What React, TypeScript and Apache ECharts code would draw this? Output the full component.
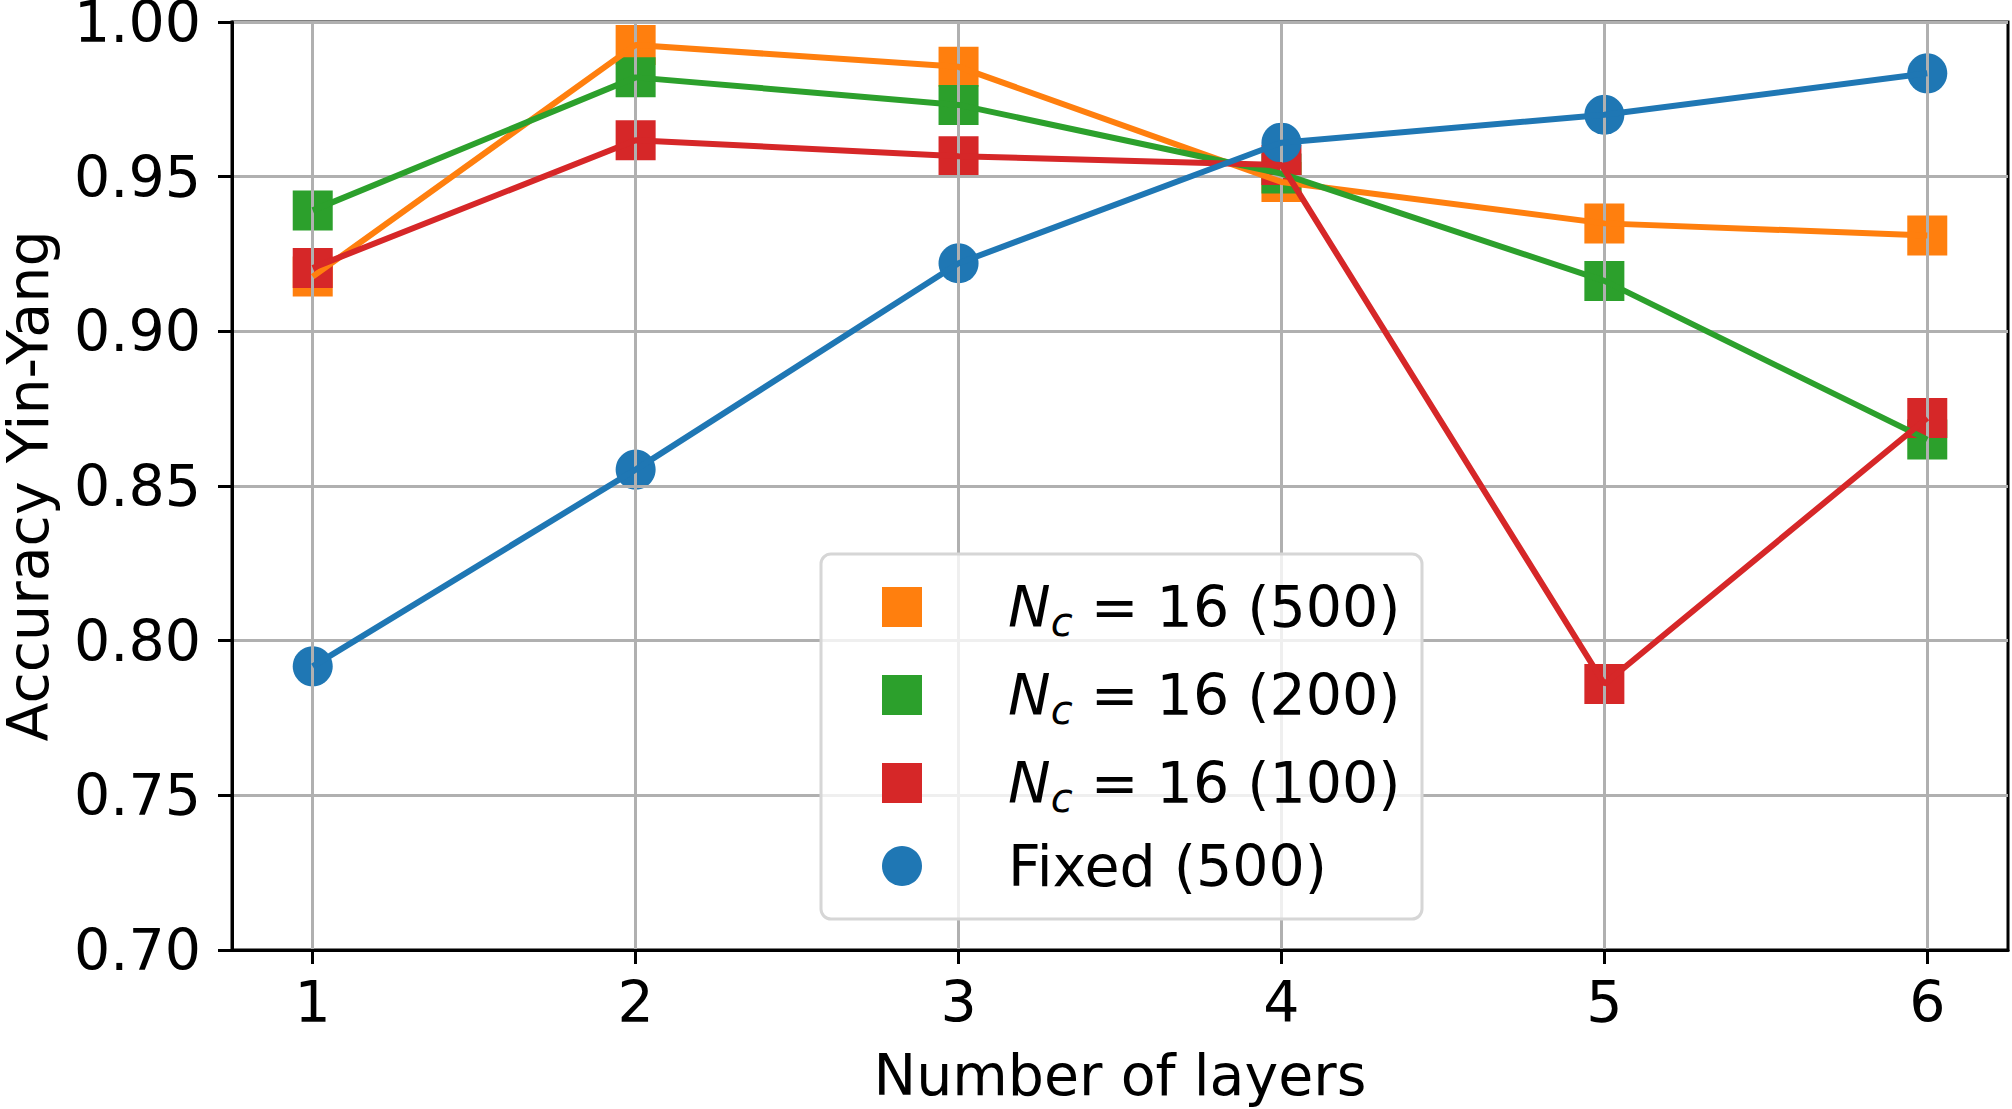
import React, { useEffect, useRef } from "react";
import * as echarts from "echarts";

// ---- data ----
const layers = [1, 2, 3, 4, 5, 6];
const xTickValues = [1, 2, 3, 4, 5, 6];
const acc500 = [0.9177, 0.9926, 0.9855, 0.9483, 0.9349, 0.931];
const acc200 = [0.9391, 0.9821, 0.9732, 0.951, 0.9163, 0.865];
const acc100 = [0.9205, 0.9618, 0.9566, 0.9538, 0.786, 0.872];
const fixed500 = [0.7917, 0.8553, 0.922, 0.961, 0.97, 0.9834];
const seriesNames = ["N_c = 16 (500)", "N_c = 16 (200)", "N_c = 16 (100)", "Fixed (500)"];
const seriesColors = ["#ff7f0e", "#2ca02c", "#d62728", "#1f77b4"];
const seriesSymbols = ["rect", "rect", "rect", "circle"];
const seriesValues = [acc500, acc200, acc100, fixed500];

const FONT = "DejaVu Sans";
const FS = 57;

export default function App() {
  const ref = useRef<HTMLDivElement>(null);

  useEffect(() => {
    const chart = echarts.init(ref.current!, null, { renderer: "svg" });

    const lineSeries = seriesNames.map((name, k) => ({
      type: "line",
      name,
      data: layers.map((x, i) => [x, seriesValues[k][i]]),
      symbol: "none",
      showSymbol: false,
      silent: true,
      z: 6,
      lineStyle: { color: seriesColors[k], width: 6 },
      itemStyle: { color: seriesColors[k] },
    }));

    const markerSeries = seriesNames.map((name, k) => ({
      type: "scatter",
      name,
      data: layers.map((x, i) => [x, seriesValues[k][i]]),
      symbol: seriesSymbols[k],
      symbolSize: 40,
      silent: true,
      z: 2,
      itemStyle: { color: seriesColors[k], opacity: 1 },
    }));

    const formatter = (name: string) => {
      if (name.startsWith("N_c")) {
        const rest = name.slice(3);
        return `{sp| }{i|N}{s|c}{t|${rest}}`;
      }
      return `{sp| }{t|${name}}`;
    };

    chart.setOption({
      animation: false,
      grid: {
        left: 232,
        right: 4,
        top: 22,
        bottom: 159,
        containLabel: false,
        outerBoundsMode: "none",
        show: true,
        borderColor: "#000",
        borderWidth: 3,
        backgroundColor: "transparent",
      },
      xAxis: {
        type: "value",
        min: 0.75,
        max: 6.25,
        z: 4,
        name: "Number of layers",
        nameLocation: "middle",
        nameGap: 96,
        nameTextStyle: { fontFamily: FONT, fontSize: FS, color: "#000" },
        axisLine: { show: true, lineStyle: { color: "#000", width: 3 } },
        axisTick: {
          show: true,
          inside: false,
          length: 14,
          customValues: xTickValues,
          lineStyle: { color: "#000", width: 3 },
        },
        axisLabel: {
          customValues: xTickValues,
          margin: 23,
          fontFamily: FONT,
          fontSize: FS,
          color: "#000",
          formatter: (v: number) => String(v),
        },
        splitLine: { show: true, lineStyle: { color: "#b0b0b0", width: 3 } },
      },
      yAxis: {
        type: "value",
        min: 0.7,
        max: 1.0,
        interval: 0.05,
        z: 4,
        name: "Accuracy Yin-Yang",
        nameLocation: "middle",
        nameGap: 176,
        nameTextStyle: { fontFamily: FONT, fontSize: FS, color: "#000" },
        axisLine: { show: true, lineStyle: { color: "#000", width: 3 } },
        axisTick: { show: true, inside: false, length: 14, lineStyle: { color: "#000", width: 3 } },
        axisLabel: {
          margin: 31,
          fontFamily: FONT,
          fontSize: FS,
          color: "#000",
          formatter: (v: number) => v.toFixed(2),
        },
        splitLine: { show: true, lineStyle: { color: "#b0b0b0", width: 3 } },
      },
      legend: {
        orient: "vertical",
        left: 882,
        top: 572,
        padding: 0,
        itemWidth: 40,
        itemHeight: 40,
        itemGap: 18,
        selectedMode: false,
        z: 10,
        data: seriesNames.map((name, k) => ({
          name,
          icon: seriesSymbols[k],
          itemStyle: { color: seriesColors[k], opacity: 1 },
        })),
        formatter,
        textStyle: {
          fontFamily: FONT,
          fontSize: FS,
          color: "#000",
          lineHeight: 60,
          rich: {
            sp: { width: 81, fontSize: FS, lineHeight: 60, fontFamily: FONT },
            i: { fontStyle: "italic", fontSize: FS, lineHeight: 60, fontFamily: FONT, color: "#000" },
            s: {
              fontStyle: "italic",
              fontSize: 40,
              lineHeight: 30,
              padding: [30, 0, 0, 0],
              fontFamily: FONT,
              color: "#000",
            },
            t: { fontSize: FS, lineHeight: 60, fontFamily: FONT, color: "#000" },
          },
        },
      },
      graphic: [
        {
          type: "rect",
          z: 9,
          silent: true,
          shape: { x: 821, y: 554, width: 601, height: 365, r: 10 },
          style: { fill: "rgba(255,255,255,0.8)", stroke: "#d6d6d6", lineWidth: 3 },
        },
      ],
      series: [...markerSeries, ...lineSeries],
    });

    return () => chart.dispose();
  }, []);

  return (
    <div
      ref={ref}
      style={{ position: "absolute", left: 0, top: 0, width: 2012, height: 1109 }}
    />
  );
}
